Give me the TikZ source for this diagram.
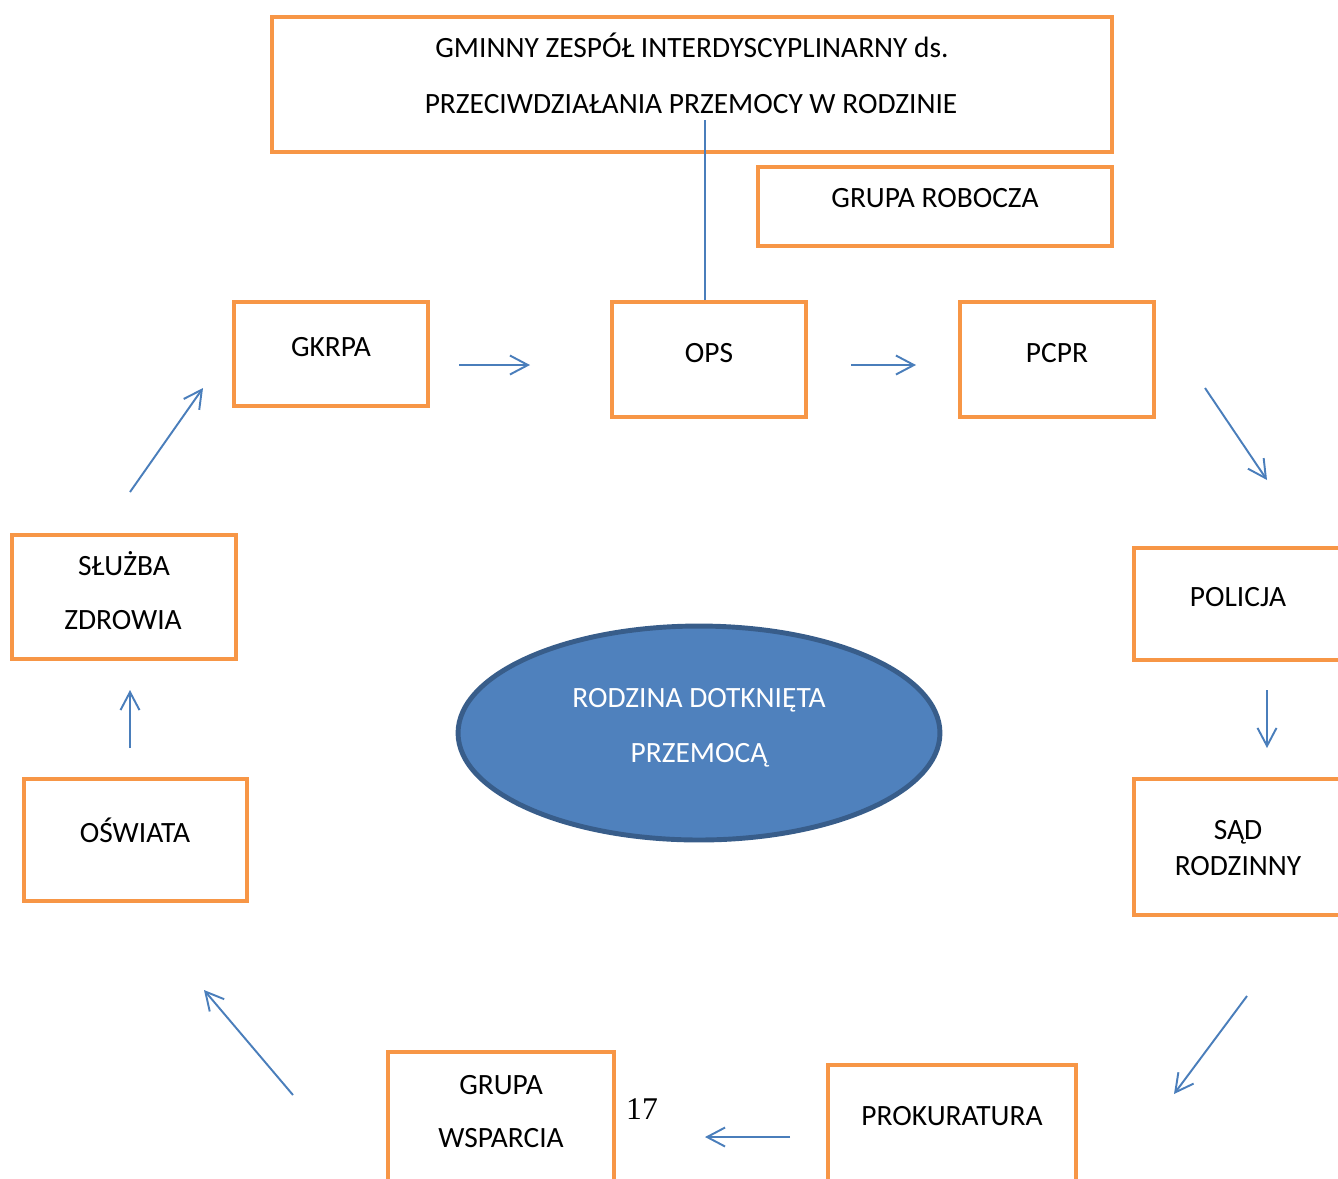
\documentclass[tikz,border=0pt]{standalone}
\usepackage{fontspec}
\setmainfont{Carlito}
\newfontfamily\pagefont{Liberation Serif}
\usetikzlibrary{arrows.meta,shapes.geometric}
\definecolor{boxorange}{HTML}{F79646}
\definecolor{arrowblue}{HTML}{4A7EBB}
\definecolor{ovalfill}{HTML}{4F81BD}
\definecolor{ovaldraw}{HTML}{385D8A}
\begin{document}
\begin{tikzpicture}[x=0.02cm, y=-0.02cm,
        box/.style={draw=boxorange, line width=2.3pt, inner sep=0pt},
        txt/.style={anchor=base, inner sep=0pt, font=\fontsize{16.75}{20}\selectfont},
        flow/.style={arrowblue, line width=1.1pt, -{Straight Barb[length=3.6mm, width=3.8mm]}}]
        %\draw [help lines, step=50] (0,0) grid (1338,1178);
        
        \useasboundingbox (0,0) rectangle (1338,1178);
        \clip (0,0) rectangle (1338,1178);
        
        %the boxes
        \node [box, minimum width=16.8cm, minimum height=2.7cm] (gzi) at (692,84.5) {};
        \node [box, minimum width=7.08cm, minimum height=1.58cm] (robocza) at (935,206.5) {};
        \node [box, minimum width=3.88cm, minimum height=2.08cm] (gkrpa) at (331,354) {};
        \node [box, minimum width=3.88cm, minimum height=2.3cm] (ops) at (709,359.5) {};
        \node [box, minimum width=3.88cm, minimum height=2.3cm] (pcpr) at (1057,359.5) {};
        \node [box, minimum width=4.16cm, minimum height=2.24cm] (policja) at (1238,604) {};
        \node [box, minimum width=4.16cm, minimum height=2.72cm] (sad) at (1238,847) {};
        \node [box, minimum width=4.96cm, minimum height=2.5cm] (prok) at (952,1127.5) {};
        \node [box, minimum width=4.52cm, minimum height=2.76cm] (wsparcia) at (501,1121) {};
        \node [box, minimum width=4.46cm, minimum height=2.44cm] (oswiata) at (135.5,840) {};
        \node [box, minimum width=4.48cm, minimum height=2.48cm] (sluzba) at (124,597) {};
        
        \node [ellipse, draw=ovaldraw, fill=ovalfill, line width=2.8pt, inner sep=0pt,
               minimum width=9.64cm, minimum height=4.28cm] (rodzina) at (699,733) {};
        
        %the texts
        \node [txt] (gzi-a) at (692,57) {GMINNY ZESPÓŁ INTERDYSCYPLINARNY ds.};
        \node [txt] (gzi-b) at (691,113) {PRZECIWDZIAŁANIA PRZEMOCY W RODZINIE};
        \node [txt] (robocza-t) at (935,207) {GRUPA ROBOCZA};
        \node [txt] (gkrpa-t) at (331,356) {GKRPA};
        \node [txt] (ops-t) at (709,362) {OPS};
        \node [txt] (pcpr-t) at (1057,362) {PCPR};
        \node [txt] (policja-t) at (1238,606) {POLICJA};
        \node [txt] (sad-a) at (1238,839) {SĄD};
        \node [txt] (sad-b) at (1238,875) {RODZINNY};
        \node [txt] (prok-t) at (952,1125) {PROKURATURA};
        \node [txt] (wsparcia-a) at (501,1094) {GRUPA};
        \node [txt] (wsparcia-b) at (501,1147) {WSPARCIA};
        \node [txt] (oswiata-t) at (135,842) {OŚWIATA};
        \node [txt] (sluzba-a) at (124,575) {SŁUŻBA};
        \node [txt] (sluzba-b) at (123,629) {ZDROWIA};
        \node [txt, white] (rodzina-a) at (699,707) {RODZINA DOTKNIĘTA};
        \node [txt, white] (rodzina-b) at (699,762) {PRZEMOCĄ};
        \node [anchor=base, inner sep=0pt, font=\pagefont\fontsize{18}{20}\selectfont] (page) at (642,1119) {17};
        
        %the connectors
        \coordinate (gzi-in) at (705,120);
        \draw [arrowblue, line width=0.6pt] (ops.north -| gzi-in) -- (gzi-in);
        
        \coordinate (a1) at (459,365);  \coordinate (b1) at (530,365);
        \coordinate (a2) at (851,365);  \coordinate (b2) at (916,365);
        \coordinate (a3) at (1205,388); \coordinate (b3) at (1267,480);
        \coordinate (a4) at (1267,690); \coordinate (b4) at (1267,748);
        \coordinate (a5) at (1247,996); \coordinate (b5) at (1174,1094);
        \coordinate (a6) at (790,1137); \coordinate (b6) at (705,1137);
        \coordinate (a7) at (293,1095); \coordinate (b7) at (204,990);
        \coordinate (a8) at (130,748);  \coordinate (b8) at (130,690);
        \coordinate (a9) at (130,492);  \coordinate (b9) at (203,388);
        \foreach \i in {1,...,9}
            \draw [flow] (a\i) -- (b\i);
        
    \end{tikzpicture}
\end{document}
